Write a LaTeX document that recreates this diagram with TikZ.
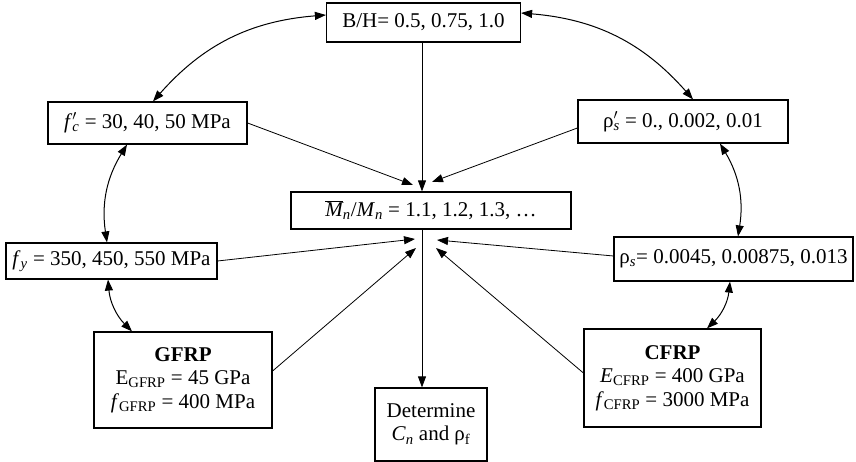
\documentclass[tikz,border=0pt]{standalone}
\usepackage{fontspec}
\setmainfont{Liberation Serif}
\usetikzlibrary{arrows.meta,calc}
\newcommand\sbx[1]{\textsubscript{#1}}
\begin{document}
\begin{tikzpicture}[x=1pt,y=1pt,
  box/.style={draw,line width=1.2pt,inner sep=0pt,align=center,font=\fontsize{21}{23.5}\selectfont},
  arr/.style={line width=0.8pt,-{Triangle[length=11pt,width=8pt]}},
  darr/.style={line width=1pt,{Triangle[length=11pt,width=8pt]}-{Triangle[length=11pt,width=8pt]}}]
\useasboundingbox (0,0) rectangle (856,462);
\node[box,minimum width=194pt,minimum height=39pt] (BH) at (423.5,439.5) {B/H= 0.5, 0.75, 1.0};
\node[box,minimum width=199pt,minimum height=42pt] (fc) at (147.5,339) {\textit{f}\rlap{$'$}\sbx{\textit{c}} = 30, 40, 50 MPa};
\node[box,minimum width=210pt,minimum height=43pt] (rp) at (683,340.5) {ρ\rlap{$'$}\sbx{\textit{s}} = 0., 0.002, 0.01};
\node[box,minimum width=280pt,minimum height=37pt] (M) at (431,251.5) {$\overline{\mbox{\itshape M}}$\sbx{\textit{n}}/\textit{M}\sbx{\textit{n}} = 1.1, 1.2, 1.3, …};
\node[box,minimum width=211pt,minimum height=36pt] (fy) at (111.5,201) {\textit{f}\sbx{\textit{y}} = 350, 450, 550 MPa};
\node[box,minimum width=239pt,minimum height=44pt] (rs) at (733.5,203) {ρ\sbx{\textit{s}}= 0.0045, 0.00875, 0.013};
\node[box,minimum width=178pt,minimum height=96pt] (G) at (183,82) {\textbf{GFRP}\\E\sbx{GFRP} = 45 GPa\\\textit{f}\sbx{GFRP} = 400 MPa};
\node[box,minimum width=177pt,minimum height=98pt] (C) at (672.5,84) {\textbf{CFRP}\\\textit{E}\sbx{CFRP} = 400 GPa\\\textit{f}\sbx{CFRP} = 3000 MPa};
\node[box,minimum width=112pt,minimum height=73pt] (D) at (431,37.5) {Determine\\\textit{C}\sbx{\textit{n}} and ρ\sbx{f}};
% converging tips
\coordinate (tFC) at (413,277);
\coordinate (tRP) at (432,280);
\coordinate (tFY) at (415,223);
\coordinate (tRS) at (437,222);
\coordinate (tG) at (416,214);
\coordinate (tC) at (436,214);
\coordinate (hub) at (422,0);
\draw[arr] (BH.south -| hub) -- (M.north -| hub);
\draw[arr] (M.south -| hub) -- (D.north -| hub);
\draw[arr] (fc.east) -- (tFC);
\draw[arr] ($(rp.west)+(0,-6.5)$) -- (tRP);
\draw[arr] (fy.east) -- (tFY);
\draw[arr] ($(rs.west)+(0,3)$) -- (tRS);
\draw[arr] ($(G.east)+(0,9)$) -- (tG);
\draw[arr] ($(C.west)+(0,5)$) -- (tC);
% curved double arrows
\draw[darr] ($(fc.north)+(5.5,0)$) to[bend left=22] ($(BH.west)+(0,7.5)$);
\draw[darr] ($(BH.east)+(0,9.5)$) to[bend left=22] ($(rp.north)+(10,0)$);
\draw[darr] ($(fc.south)+(-20.5,0)$) to[bend right=20] ($(fy.north)+(-4.5,0)$);
\draw[darr] ($(fy.south)+(-3.5,0)$) to[bend right=20] ($(G.north)+(-51,0)$);
\draw[darr] ($(rp.south)+(37,0)$) to[bend left=20] ($(rs.north)+(4.5,0)$);
\draw[darr] ($(rs.south)+(-3.5,0)$) to[bend left=20] ($(C.north)+(34.5,0)$);
\end{tikzpicture}
\end{document}
